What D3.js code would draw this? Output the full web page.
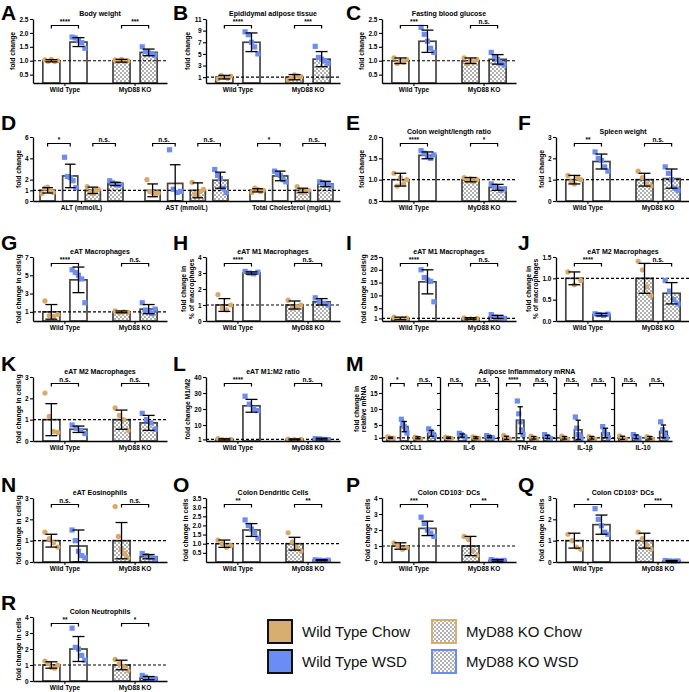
<!DOCTYPE html>
<html><head><meta charset="utf-8">
<script src="https://cdn.jsdelivr.net/npm/d3@7"></script>
<style>
body{margin:0;background:#fff}
svg{display:block}
text{font-family:"Liberation Sans",Arial,Helvetica,sans-serif}
</style>
</head><body>
<svg id="fig" width="689" height="692"></svg>
<script>
// ---------------- DATA ----------------
const seriesNames = ["Wild Type Chow", "Wild Type WSD", "MyD88 KO Chow", "MyD88 KO WSD"];
const genotypes = ["Wild Type", "MyD88 KO"];

// A Body weight
const bodyWeightMean = [1.0, 1.67, 1.0, 1.30];
const bodyWeightSD = [0.04, 0.16, 0.05, 0.12];
const bodyWeightPts = [[1.03,0.98,1.05,0.97,1.0],[1.85,1.82,1.72,1.65,1.45],[1.03,0.97,1.05,0.98,1.0],[1.5,1.33,1.28,1.25,1.2]];
const bodyWeightTicks = [0.5,1.0,1.5,2.0,2.5];
const bodyWeightSig = ["****","***"];

// B Epididymal adipose tissue
const eatMean = [1.0, 7.0, 1.0, 4.1];
const eatSD = [0.3, 1.6, 0.45, 1.3];
const eatPts = [[0.7,1.3,1.0,0.8,1.2],[8.8,8.3,7.0,6.2,5.0],[0.5,0.8,1.4,1.2,1.1],[6.3,4.4,4.1,3.8,3.4]];
const eatTicks = [1,3,5,7,9,11];
const eatSig = ["****","***"];

// C Fasting blood glucose
const glucoseMean = [1.0, 1.7, 1.0, 1.05];
const glucoseSD = [0.1, 0.4, 0.1, 0.17];
const glucosePts = [[1.1,0.9,1.0,0.95,1.05],[2.2,1.95,1.7,1.45,1.3],[1.1,0.9,1.0,0.95,1.05],[1.3,1.15,1.05,0.9,0.85]];
const glucoseTicks = [0.5,1.0,1.5,2.0,2.5];
const glucoseSig = ["***","n.s."];

// D serum chemistry
const serumLabels = ["ALT (mmol/L)", "AST (mmol/L)", "Total Cholesterol (mg/dL)"];
const altMean = [1.0, 2.35, 1.0, 1.6];
const altSD = [0.25, 1.1, 0.3, 0.15];
const altPts = [[0.7,1.2,1.3,0.9,0.8],[4.1,2.3,2.2,1.9,1.25],[1.35,0.8,0.7,1.0,1.1],[1.9,1.7,1.6,1.5,1.55]];
const altSig = ["*","n.s."];
const astMean = [1.0, 1.65, 1.0, 1.95];
const astSD = [0.6, 1.75, 0.7, 0.75];
const astPts = [[2.0,0.9,0.8,0.7,0.75],[4.8,1.1,0.8,0.9],[1.75,0.6,0.5,0.9,1.1],[2.95,2.4,2.1,1.2,0.8]];
const astSig = ["n.s.","n.s."];
const tcMean = [1.0, 2.35, 1.0, 1.6];
const tcSD = [0.15, 0.45, 0.2, 0.25];
const tcPts = [[0.8,1.2,1.1,0.9,1.0],[2.8,2.6,2.4,2.0,1.8],[1.35,0.8,0.85,1.0],[1.8,1.7,1.5,1.6,1.4]];
const tcSig = ["*","n.s."];
const serumTicks = [0,1,2,4,6];

// E Colon weight/length ratio
const colonWLMean = [1.0, 1.57, 1.0, 0.82];
const colonWLSD = [0.15, 0.08, 0.05, 0.07];
const colonWLPts = [[1.15,0.85,1.05,0.9,1.0],[1.68,1.62,1.55,1.5,1.58],[1.05,0.97,1.02,0.95,1.0],[0.9,0.85,0.8,0.75,0.78]];
const colonWLTicks = [0.5,1.0,1.5,2.0];
const colonWLSig = ["****","*"];

// F Spleen weight
const spleenMean = [1.0, 1.85, 1.0, 1.05];
const spleenSD = [0.2, 0.35, 0.3, 0.45];
const spleenPts = [[1.2,0.9,0.8,1.1,1.0],[2.3,2.0,1.9,1.6,1.4],[1.4,1.1,0.8,0.7],[1.6,1.3,1.0,0.6,0.5]];
const spleenTicks = [0,1,2,3];
const spleenSig = ["**","n.s."];

// G eAT Macrophages
const macMean = [1.0, 4.5, 1.0, 1.3];
const macSD = [0.8, 1.4, 0.1, 0.5];
const macPts = [[2.2,0.6,0.5,0.7],[5.6,5.3,5.0,4.6,2.0],[1.1,0.9,1.0,0.95],[2.0,1.2,1.0,0.8,1.3]];
const macTicks = [1,3,5,7];
const macSig = ["****","n.s."];

// H eAT M1 Macrophages (% of macrophages)
const m1PctMean = [1.0, 3.0, 1.0, 1.2];
const m1PctSD = [0.4, 0.07, 0.25, 0.2];
const m1PctPts = [[1.65,0.8,0.7,1.0],[3.1,3.0,2.95,3.05],[1.3,0.8,0.9,1.0],[1.45,1.2,1.1,1.0]];
const m1PctTicks = [0,1,2,3,4];
const m1PctSig = ["****","n.s."];

// I eAT M1 Macrophages (cells/g)
const m1CellMean = [1.0, 15.3, 1.0, 1.6];
const m1CellSD = [0.5, 4.7, 0.3, 0.6];
const m1CellPts = [[1.5,0.6,0.8,1.1],[20,17,16,15.5,7.5],[1.2,0.8,1.0],[2.5,1.5,1.2,1.0]];
const m1CellTicks = [1,5,10,15,20,25];
const m1CellSig = ["****","n.s."];

// J eAT M2 Macrophages (% of macrophages)
const m2PctMean = [1.0, 0.15, 1.0, 0.65];
const m2PctSD = [0.15, 0.03, 0.35, 0.25];
const m2PctPts = [[1.15,0.85,0.95],[0.17,0.15,0.13,0.16],[1.4,1.2,0.8,0.6],[0.95,0.7,0.5,0.4]];
const m2PctTicks = [0.0,0.5,1.0,1.5];
const m2PctSig = ["****","n.s."];

// K eAT M2 Macrophages (cells/g)
const m2CellMean = [1.0, 0.55, 1.0, 0.85];
const m2CellSD = [0.75, 0.15, 0.45, 0.35];
const m2CellPts = [[2.25,1.15,0.45,0.4],[0.75,0.6,0.5,0.35],[1.55,1.2,1.0,0.5],[1.3,1.0,0.85,0.55]];
const m2CellTicks = [0,1,2,3];
const m2CellSig = ["n.s.","n.s."];

// L eAT M1:M2 ratio
const ratioMean = [1.0, 22, 1.0, 1.2];
const ratioSD = [0.4, 4, 0.3, 0.5];
const ratioPts = [[1.5,0.8,0.6,1.0],[28,23,20,19],[1.2,0.8,1.0],[1.5,1.3,1.0,0.9]];
const ratioTicks = [1,10,20,30,40];
const ratioSig = ["****","n.s."];

// M Adipose Inflammatory mRNA
const geneLabels = ["CXCL1", "IL-6", "TNF-α", "IL-1β", "IL-10"];
const cxcl1Mean = [1.0, 4.5, 1.0, 2.4];
const cxcl1SD = [0.2, 1.6, 0.3, 0.9];
const cxcl1Pts = [[1.3,1.0,0.8,0.9],[6.8,5.5,4.5,3.5,2.5],[1.2,1.0,0.8,0.7],[3.8,3.0,2.2,1.5]];
const cxcl1Sig = ["*","n.s."];
const il6Mean = [1.0, 1.7, 1.0, 1.3];
const il6SD = [0.2, 0.5, 0.3, 0.3];
const il6Pts = [[1.2,1.0,0.8],[2.4,2.0,1.5,1.2],[1.3,1.0,0.8],[1.7,1.4,1.1,1.0]];
const il6Sig = ["n.s.","n.s."];
const tnfMean = [1.0, 6.5, 1.0, 1.3];
const tnfSD = [0.5, 4.2, 0.4, 0.5];
const tnfPts = [[1.8,1.0,0.6,0.6],[12.5,8.5,6.0,3.5,2.0],[1.5,0.9,0.7],[2.0,1.4,1.0,0.8]];
const tnfSig = ["****","n.s."];
const il1bMean = [1.0, 3.5, 1.0, 2.5];
const il1bSD = [0.4, 3.0, 0.4, 1.5];
const il1bPts = [[1.5,0.9,0.6],[7.5,4.0,2.0,1.5,1.0],[1.4,1.0,0.6],[4.5,3.0,2.0,1.0]];
const il1bSig = ["n.s.","n.s."];
const il10Mean = [1.0, 1.3, 1.0, 3.0];
const il10SD = [0.5, 0.6, 0.4, 2.0];
const il10Pts = [[1.6,0.8,0.6],[2.0,1.4,1.0,0.8],[1.4,1.0,0.6],[6.0,3.5,2.0,1.0]];
const il10Sig = ["n.s.","n.s."];
const mrnaTicks = [1,5,10,15,20];

// N eAT Eosinophils
const eosMean = [1.0, 0.75, 1.0, 0.25];
const eosSD = [0.3, 0.75, 0.85, 0.1];
const eosPts = [[1.4,1.1,0.9,0.7],[1.5,1.0,0.5,0.3,0.2],[2.6,1.2,0.6,0.4,0.2],[0.4,0.3,0.2,0.15]];
const eosTicks = [0,1,2,3];
const eosSig = ["n.s.","n.s."];

// O Colon Dendritic Cells
const dcMean = [1.0, 1.75, 1.0, 0.1];
const dcSD = [0.2, 0.35, 0.35, 0.03];
const dcPts = [[1.2,1.0,0.8,0.9],[2.3,2.0,1.8,1.6,1.3],[1.6,1.1,0.8,0.6],[0.12,0.1,0.08,0.1]];
const dcTicks = [0.5,1.0,1.5,2.0,2.5,3.0,3.5];
const dcSig = ["**","**"];

// P Colon CD103- DCs
const cd103nMean = [1.0, 2.1, 1.0, 0.1];
const cd103nSD = [0.2, 0.45, 0.6, 0.05];
const cd103nPts = [[1.2,1.0,0.8,0.9],[2.8,2.4,2.0,1.8,1.6],[1.6,1.4,0.7,0.4],[0.15,0.1,0.08,0.1]];
const cd103nTicks = [0,1,2,3,4];
const cd103nSig = ["***","**"];

// Q Colon CD103+ DCs
const cd103pMean = [1.0, 1.75, 1.0, 0.05];
const cd103pSD = [0.35, 0.45, 0.35, 0.02];
const cd103pPts = [[1.3,1.0,0.7,0.6],[2.5,2.0,1.7,1.4,1.3],[1.4,1.1,0.8,0.6],[0.07,0.05,0.04,0.05]];
const cd103pTicks = [0,1,2,3];
const cd103pSig = ["*","***"];

// R Colon Neutrophils
const neutMean = [1.0, 2.0, 1.0, 0.18];
const neutSD = [0.2, 0.78, 0.3, 0.1];
const neutPts = [[1.25,1.1,0.85,0.8,1.0],[3.3,2.1,2.0,1.6,1.3],[1.35,1.1,0.9,0.65],[0.35,0.25,0.1,0.1,0.15]];
const neutTicks = [0,1,2,3,4];
const neutSig = ["**","*"];

// ---------------- LAYOUT ----------------
const plotTop = [19, 137, 257, 377, 498, 617];
const plotH = 64;
const letterBase = [20, 130, 250, 371, 492, 610];
const colX = [0, 172, 345, 517];
const axisX = [33, 206, 382, 556];
const plotW = 134;
const colors = {tan: "#D9A96B", blue: "#6C8DF2", barStroke: "#444"};

const svg = d3.select("#fig");
const defs = svg.append("defs");
const pat = defs.append("pattern").attr("id", "checker").attr("width", 4).attr("height", 4).attr("patternUnits", "userSpaceOnUse");
pat.append("rect").attr("width", 4).attr("height", 4).attr("fill", "#fff");
pat.append("rect").attr("width", 2).attr("height", 2).attr("fill", "#b0b0b0");
pat.append("rect").attr("x", 2).attr("y", 2).attr("width", 2).attr("height", 2).attr("fill", "#b0b0b0");

function twoGroups(mean, sd, pts, sig) {
  return [
    {label: genotypes[0], series: [0, 1], mean: mean.slice(0, 2), sd: sd.slice(0, 2), pts: pts.slice(0, 2), sig: [sig[0]]},
    {label: genotypes[1], series: [2, 3], mean: mean.slice(2), sd: sd.slice(2), pts: pts.slice(2), sig: [sig[1]]}
  ];
}
function fourGroup(label, mean, sd, pts, sig) {
  return {label, series: [0, 1, 2, 3], mean, sd, pts, sig};
}
const two = {pi: 0.37, po: 0.14, bi: 0.37, bo: 0};

const panels = [
  Object.assign({letter: "A", row: 0, col: 0, title: "Body weight", ylabel: ["fold change"], ticks: bodyWeightTicks, domain: [0.2, 2.5], fmt: ".1f",
    groups: twoGroups(bodyWeightMean, bodyWeightSD, bodyWeightPts, bodyWeightSig)}, two),
  Object.assign({letter: "B", row: 0, col: 1, title: "Epididymal adipose tissue", ylabel: ["fold change"], ticks: eatTicks, domain: [0, 11], fmt: "d",
    groups: twoGroups(eatMean, eatSD, eatPts, eatSig)}, two),
  Object.assign({letter: "C", row: 0, col: 2, title: "Fasting blood glucose", ylabel: ["fold change"], ticks: glucoseTicks, domain: [0.2, 2.5], fmt: ".1f",
    groups: twoGroups(glucoseMean, glucoseSD, glucosePts, glucoseSig)}, two),
  {letter: "D", row: 1, col: 0, width: 307, title: "", ylabel: ["fold change"], ticks: serumTicks, domain: [0, 6], fmt: "d",
    pi: 0.21, po: 0.067, bi: 0.33, bo: 0,
    groups: [fourGroup(serumLabels[0], altMean, altSD, altPts, altSig), fourGroup(serumLabels[1], astMean, astSD, astPts, astSig), fourGroup(serumLabels[2], tcMean, tcSD, tcPts, tcSig)]},
  Object.assign({letter: "E", row: 1, col: 2, title: "Colon weight/length ratio", ylabel: ["fold change"], ticks: colonWLTicks, domain: [0.5, 2.0], fmt: ".1f",
    groups: twoGroups(colonWLMean, colonWLSD, colonWLPts, colonWLSig)}, two),
  Object.assign({letter: "F", row: 1, col: 3, title: "Spleen weight", ylabel: ["fold change"], ticks: spleenTicks, domain: [0, 3], fmt: "d",
    groups: twoGroups(spleenMean, spleenSD, spleenPts, spleenSig)}, two),
  Object.assign({letter: "G", row: 2, col: 0, title: "eAT Macrophages", ylabel: ["fold change in cells/g"], ticks: macTicks, domain: [0, 7], fmt: "d",
    groups: twoGroups(macMean, macSD, macPts, macSig)}, two),
  Object.assign({letter: "H", row: 2, col: 1, title: "eAT M1 Macrophages", ylabel: ["fold change in", "% of macrophages"], ticks: m1PctTicks, domain: [0, 4], fmt: "d",
    groups: twoGroups(m1PctMean, m1PctSD, m1PctPts, m1PctSig)}, two),
  Object.assign({letter: "I", row: 2, col: 2, title: "eAT M1 Macrophages", ylabel: ["fold change in cells/g"], ticks: m1CellTicks, domain: [0, 25], fmt: "d",
    groups: twoGroups(m1CellMean, m1CellSD, m1CellPts, m1CellSig)}, two),
  Object.assign({letter: "J", row: 2, col: 3, title: "eAT M2 Macrophages", ylabel: ["fold change in", "% of macrophages"], ticks: m2PctTicks, domain: [0, 1.5], fmt: ".1f",
    groups: twoGroups(m2PctMean, m2PctSD, m2PctPts, m2PctSig)}, two),
  Object.assign({letter: "K", row: 3, col: 0, title: "eAT M2 Macrophages", ylabel: ["fold change in cells/g"], ticks: m2CellTicks, domain: [0, 3], fmt: "d",
    groups: twoGroups(m2CellMean, m2CellSD, m2CellPts, m2CellSig)}, two),
  Object.assign({letter: "L", row: 3, col: 1, title: "eAT M1:M2 ratio", ylabel: ["fold change M1/M2"], ticks: ratioTicks, domain: [0, 40], fmt: "d",
    groups: twoGroups(ratioMean, ratioSD, ratioPts, ratioSig)}, two),
  {letter: "M", row: 3, col: 2, width: 290, title: "Adipose Inflammatory mRNA", ylabel: ["fold change in", "relative mRNA"], ticks: mrnaTicks, domain: [0, 20], fmt: "d",
    pi: 0, po: 0, bi: 0.45, bo: 0.35, subAxes: true,
    groups: [fourGroup(geneLabels[0], cxcl1Mean, cxcl1SD, cxcl1Pts, cxcl1Sig), fourGroup(geneLabels[1], il6Mean, il6SD, il6Pts, il6Sig),
             fourGroup(geneLabels[2], tnfMean, tnfSD, tnfPts, tnfSig), fourGroup(geneLabels[3], il1bMean, il1bSD, il1bPts, il1bSig),
             fourGroup(geneLabels[4], il10Mean, il10SD, il10Pts, il10Sig)]},
  Object.assign({letter: "N", row: 4, col: 0, title: "eAT Eosinophils", ylabel: ["fold change in cells/g"], ticks: eosTicks, domain: [0, 3], fmt: "d",
    groups: twoGroups(eosMean, eosSD, eosPts, eosSig)}, two),
  Object.assign({letter: "O", row: 4, col: 1, title: "Colon Dendritic Cells", ylabel: ["fold change in cells"], ticks: dcTicks, domain: [0, 3.5], fmt: ".1f",
    groups: twoGroups(dcMean, dcSD, dcPts, dcSig)}, two),
  Object.assign({letter: "P", row: 4, col: 2, title: ["Colon CD103", "−", " DCs"], ylabel: ["fold change in cells"], ticks: cd103nTicks, domain: [0, 4], fmt: "d",
    groups: twoGroups(cd103nMean, cd103nSD, cd103nPts, cd103nSig)}, two),
  Object.assign({letter: "Q", row: 4, col: 3, title: ["Colon CD103", "+", " DCs"], ylabel: ["fold change in cells"], ticks: cd103pTicks, domain: [0, 3], fmt: "d",
    groups: twoGroups(cd103pMean, cd103pSD, cd103pPts, cd103pSig)}, two),
  Object.assign({letter: "R", row: 5, col: 0, title: "Colon Neutrophils", ylabel: ["fold change in cells"], ticks: neutTicks, domain: [0, 4], fmt: "d",
    groups: twoGroups(neutMean, neutSD, neutPts, neutSig)}, two)
];

function styleAxis(sel) {
  sel.select(".domain").attr("stroke", "#000").attr("stroke-width", 1.3);
  sel.selectAll(".tick line").attr("stroke", "#000").attr("stroke-width", 1.1);
  sel.selectAll(".tick text").attr("font-size", 6.5).attr("font-weight", "bold").attr("fill", "#000")
    .attr("font-family", '"Liberation Sans",Arial,sans-serif');
}

function drawPanel(p) {
  const top = plotTop[p.row], bot = top + plotH;
  const x0 = axisX[p.col], W = p.width || plotW;
  const y = d3.scaleLinear().domain(p.domain).range([bot, top]);
  const g = svg.append("g");
  const fmt = d3.format(p.fmt);

  // panel letter
  g.append("text").attr("x", colX[p.col] + 1).attr("y", letterBase[p.row])
    .attr("font-size", 21).attr("font-weight", "bold").text(p.letter);

  // title
  if (p.title) {
    const t = g.append("text").attr("x", x0 + W / 2).attr("y", top - 3).attr("text-anchor", "middle")
      .attr("font-size", 7).attr("font-weight", "bold");
    if (Array.isArray(p.title)) {
      t.append("tspan").text(p.title[0]);
      t.append("tspan").attr("dy", -2.5).attr("font-size", 5).text(p.title[1]);
      t.append("tspan").attr("dy", 2.5).text(p.title[2]);
    } else t.text(p.title);
  }

  // y label, placed left of the widest tick label
  const tickW = d3.max(p.ticks, v => fmt(v).split("").reduce((s, c) => s + (c === "." ? 1.8 : 3.6), 0));
  const cLast = x0 - 4.5 - tickW - 4.2;
  const cy = (top + bot) / 2;
  const n = p.ylabel.length;
  p.ylabel.forEach((line, i) => {
    const cx = cLast - (n - 1 - i) * 7.5;
    g.append("text").attr("transform", `translate(${cx},${cy}) rotate(-90)`)
      .attr("text-anchor", "middle").attr("font-size", 6.8).attr("font-weight", "bold").text(line);
  });

  const xg = d3.scaleBand().domain(p.groups.map(d => d.label)).range([x0, x0 + W])
    .paddingInner(p.pi).paddingOuter(p.po);

  const bars = [], brackets = [];
  p.groups.forEach(grp => {
    const xb = d3.scaleBand().domain(d3.range(grp.series.length))
      .range([xg(grp.label), xg(grp.label) + xg.bandwidth()]).paddingInner(p.bi).paddingOuter(p.bo || 0);
    grp.series.forEach((s, i) => {
      bars.push({s, m: grp.mean[i], e: grp.sd[i], pts: grp.pts[i], x: xb(i), w: xb.bandwidth()});
    });
    grp.sig.forEach((lab, k) => {
      const a = xb(2 * k) + xb.bandwidth() / 2, b = xb(2 * k + 1) + xb.bandwidth() / 2;
      brackets.push({a, b, lab});
    });
  });

  const base = y(p.domain[0]);
  // bars
  g.selectAll("rect.bar").data(bars).join("rect").attr("class", "bar")
    .attr("x", d => d.x).attr("width", d => d.w)
    .attr("y", d => y(d.m)).attr("height", d => base - y(d.m))
    .attr("fill", d => d.s >= 2 ? "url(#checker)" : "#fff")
    .attr("stroke", colors.barStroke).attr("stroke-width", 1.7);

  // dashed reference line at 1
  g.append("line").attr("x1", x0).attr("x2", x0 + W).attr("y1", y(1)).attr("y2", y(1))
    .attr("stroke", "#000").attr("stroke-width", 1.2).attr("stroke-dasharray", "3,2");

  // points
  bars.forEach(d => {
    const n = d.pts.length;
    const spread = d.w * 0.75;
    d.pts.forEach((v, i) => {
      const off = n > 1 ? (i / (n - 1) - 0.5) * spread : 0;
      const cx = d.x + d.w / 2 + off, cyy = y(v);
      if (d.s === 0 || d.s === 2) {
        g.append("circle").attr("cx", cx).attr("cy", cyy).attr("r", 2.6).attr("fill", colors.tan);
      } else {
        g.append("rect").attr("x", cx - 2.6).attr("y", cyy - 2.6).attr("width", 5.2).attr("height", 5.2).attr("fill", colors.blue);
      }
    });
  });

  // error bars
  bars.forEach(d => {
    const cx = d.x + d.w / 2, cap = d.w * 0.35;
    const lo = y(Math.max(d.m - d.e, p.domain[0])), hi = y(d.m + d.e);
    g.append("line").attr("x1", cx).attr("x2", cx).attr("y1", lo).attr("y2", hi).attr("stroke", "#000").attr("stroke-width", 1.3);
    g.append("line").attr("x1", cx - cap).attr("x2", cx + cap).attr("y1", hi).attr("y2", hi).attr("stroke", "#000").attr("stroke-width", 1.3);
    g.append("line").attr("x1", cx - cap).attr("x2", cx + cap).attr("y1", lo).attr("y2", lo).attr("stroke", "#000").attr("stroke-width", 1.3);
  });

  // axes
  const ya = g.append("g").attr("transform", `translate(${x0},0)`)
    .call(d3.axisLeft(y).tickValues(p.ticks).tickFormat(fmt).tickSize(3).tickSizeOuter(0).tickPadding(1.5));
  styleAxis(ya);
  if (p.subAxes) {
    p.groups.slice(1).forEach(grp => {
      const sa = g.append("g").attr("transform", `translate(${xg(grp.label)},0)`)
        .call(d3.axisLeft(y).tickValues(p.ticks).tickFormat("").tickSize(3).tickSizeOuter(0));
      styleAxis(sa);
    });
  }
  const xa = g.append("g").attr("transform", `translate(0,${bot})`)
    .call(d3.axisBottom(xg).tickSize(3).tickSizeOuter(0).tickPadding(1.5));
  styleAxis(xa);

  // significance brackets
  const by = top + 6.5;
  brackets.forEach(br => {
    g.append("path").attr("d", `M${br.a},${by + 3}V${by}H${br.b}V${by + 3}`)
      .attr("fill", "none").attr("stroke", "#000").attr("stroke-width", 1.2);
    g.append("text").attr("x", (br.a + br.b) / 2).attr("y", by - 1.8).attr("text-anchor", "middle")
      .attr("font-size", 6.5).attr("font-weight", "bold").text(br.lab);
  });
}

panels.forEach(drawPanel);

// ---------------- LEGEND ----------------
const legendX = [268, 432], legendY = [620, 650];
const legendFill = ["#D8AD70", "#6A8DF5", "url(#checker)", "url(#checker)"];
const legendStroke = ["#111", "#111", "#D8AD70", "#6A8DF5"];
const lg = svg.append("g");
seriesNames.forEach((name, i) => {
  const col = i >= 2 ? 1 : 0, row = i % 2;
  lg.append("rect").attr("x", legendX[col]).attr("y", legendY[row]).attr("width", 24).attr("height", 23)
    .attr("fill", legendFill[i]).attr("stroke", legendStroke[i]).attr("stroke-width", 2);
  lg.append("text").attr("x", legendX[col] + 34).attr("y", legendY[row] + 17)
    .attr("font-size", 15).attr("fill", "#111").text(name);
});
</script>
</body></html>
